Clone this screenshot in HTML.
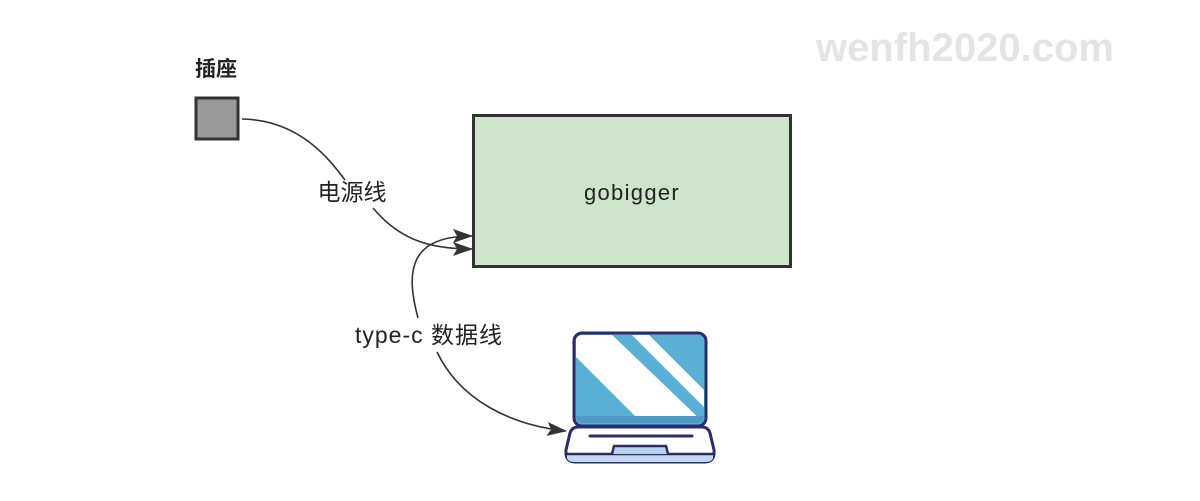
<!DOCTYPE html>
<html><head><meta charset="utf-8"><style>
html,body{margin:0;padding:0;background:#fff;}
svg text{font-family:"Liberation Sans","Noto Sans CJK SC",sans-serif;}
</style></head><body>
<svg width="1200" height="496" viewBox="0 0 1200 496" xmlns="http://www.w3.org/2000/svg">
<defs>
<marker id="b" viewBox="0 0 20 14" markerWidth="20" markerHeight="14" refX="19" refY="7" orient="auto" markerUnits="userSpaceOnUse">
<path d="M0,0 L20,7 L0,14 L4,7 z" fill="#333"/>
</marker>
<clipPath id="scr"><rect x="576" y="335" width="128" height="88" rx="6"/></clipPath>
</defs>
<text x="965" y="61" font-size="40" font-weight="bold" fill="#e4e4e4" text-anchor="middle">wenfh2020.com</text>

<text x="216" y="76" font-size="21" fill="#222" text-anchor="middle" font-weight="bold">插座</text>
<rect x="196" y="98" width="42" height="41" fill="#999" stroke="#333" stroke-width="3"/>

<rect x="473.5" y="115.5" width="317" height="151" fill="#cfe5cb" stroke="#333" stroke-width="3"/>
<text x="632" y="200" font-size="22" fill="#222" text-anchor="middle" letter-spacing="1.3">gobigger</text>

<path d="M242,119 C300,120 330,160 345,180" fill="none" stroke="#333" stroke-width="1.6"/>
<path d="M373,208 C400,240 430,249 472,249" fill="none" stroke="#333" stroke-width="1.6" marker-end="url(#b)"/>
<text x="352" y="200" font-size="23" fill="#222" text-anchor="middle">电源线</text>

<path d="M418,318 C405,270 410,236 472,236" fill="none" stroke="#333" stroke-width="1.6" marker-end="url(#b)"/>
<path d="M437,352 C460,400 510,425 566,431" fill="none" stroke="#333" stroke-width="1.6" marker-end="url(#b)"/>
<text x="429" y="343" font-size="23" fill="#222" text-anchor="middle" letter-spacing="1">type-c 数据线</text>

<!-- laptop -->
<rect x="574" y="333" width="132" height="93" rx="8" fill="#5aafd6" stroke="#2b2d6b" stroke-width="3"/>
<g clip-path="url(#scr)">
<polygon points="560,330 607,330 705,424 643,424 560,341" fill="#fff"/>
<polygon points="627,330 644,330 710,396 710,413" fill="#fff"/>
<rect x="576" y="416" width="128" height="8" fill="#4f99c4"/>
</g>
<path d="M578,427 L702,427 Q708,427 710,433 L714,450 Q715,462 705,462 L575,462 Q565,462 566,450 L570,433 Q572,427 578,427 z" fill="#fff" stroke="#2b2d6b" stroke-width="3"/>
<path d="M567,454 L713,454 L713,458 Q712,462 705,462 L575,462 Q568,462 567,458 z" fill="#c4d8ef"/>
<path d="M566,454 L714,454" stroke="#2b2d6b" stroke-width="2.5"/>
<path d="M590,436 L692,436" stroke="#2b2d6b" stroke-width="3" stroke-linecap="round"/>
<path d="M612,454 L614,446 L666,446 L668,454" fill="#b6d3ea" stroke="#2b2d6b" stroke-width="2.5"/>
</svg>
</body></html>
